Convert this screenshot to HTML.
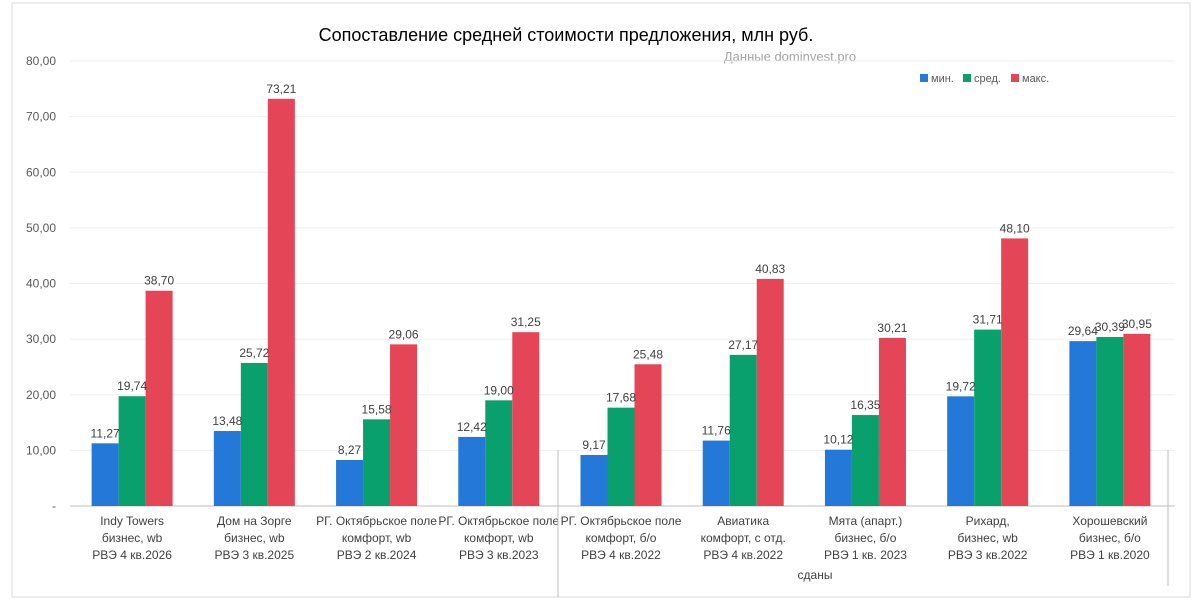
<!DOCTYPE html>
<html><head><meta charset="utf-8">
<style>
body{margin:0;background:#fff;font-family:"Liberation Sans","DejaVu Sans",sans-serif;}
svg text{font-family:"Liberation Sans","DejaVu Sans",sans-serif;}
</style></head>
<body>
<svg id="chart" width="1202" height="610">
<rect x="12" y="3" width="1178" height="594" fill="#fff" stroke="#d9d9d9"/>
<text x="566" y="41" font-size="18" text-anchor="middle" fill="#000">Сопоставление средней стоимости предложения, млн руб.</text>
<text x="790" y="61" font-size="13" text-anchor="middle" fill="#a6a6a6">Данные dominvest.pro</text>
<g id="grid"></g><g id="bars"></g><g id="labels"></g>
<g>
<rect x="920" y="74" width="8" height="8" fill="#2479d8"/>
<text x="931" y="82" font-size="11" fill="#595959">мин.</text>
<rect x="963" y="74" width="8" height="8" fill="#0aa06e"/>
<text x="974" y="82" font-size="11" fill="#595959">сред.</text>
<rect x="1011" y="74" width="8" height="8" fill="#e44658"/>
<text x="1022" y="82" font-size="11" fill="#595959">макс.</text>
</g>
<line x1="558" y1="450" x2="558" y2="597" stroke="#bfbfbf"/>
<line x1="1168" y1="450" x2="1168" y2="586" stroke="#bfbfbf"/>
<text x="815" y="579" font-size="12" text-anchor="middle" fill="#404040">сданы</text>
</svg>
<script>
const categories=[["Indy Towers","бизнес, wb","РВЭ 4 кв.2026"],["Дом на Зорге","бизнес, wb","РВЭ 3 кв.2025"],["РГ. Октябрьское поле","комфорт, wb","РВЭ 2 кв.2024"],["РГ. Октябрьское поле","комфорт, wb","РВЭ 3 кв.2023"],["РГ. Октябрьское поле","комфорт, б/о","РВЭ 4 кв.2022"],["Авиатика","комфорт, с отд.","РВЭ 4 кв.2022"],["Мята (апарт.)","бизнес, б/о","РВЭ 1 кв. 2023"],["Рихард,","бизнес, wb","РВЭ 3 кв.2022"],["Хорошевский","бизнес, б/о","РВЭ 1 кв.2020"]];
const minVals=[11.27,13.48,8.27,12.42,9.17,11.76,10.12,19.72,29.64];
const avgVals=[19.74,25.72,15.58,19.00,17.68,27.17,16.35,31.71,30.39];
const maxVals=[38.70,73.21,29.06,31.25,25.48,40.83,30.21,48.10,30.95];
const yTicks=[0,10,20,30,40,50,60,70,80];
const seriesNames=["min","avg","max"];
const colors=["#2479d8","#0aa06e","#e44658"];
const NS="http://www.w3.org/2000/svg";
const x0=71,x1=1171,yBase=506,yTop=61,yMax=80;
const y=v=>yBase-(v/yMax)*(yBase-yTop);
const cw=(x1-x0)/categories.length,bw=27;
function mk(t,a,p){const e=document.createElementNS(NS,t);for(const k in a)e.setAttribute(k,a[k]);p.appendChild(e);return e;}
const grid=document.getElementById('grid'),bars=document.getElementById('bars'),labels=document.getElementById('labels');
yTicks.forEach(t=>{
  if(t>0){const l=mk('line',{x1:70,x2:1175,y1:y(t),y2:y(t),stroke:'#efefef'},grid);
  
  }
  const tx=mk('text',{x:56,y:y(t)+4,'font-size':12,'text-anchor':'end',fill:'#595959'},grid);
  tx.textContent=t===0?'-':t.toFixed(2).replace('.',',');
  
  
});
const ax=mk('line',{x1:70,x2:1175,y1:yBase,y2:yBase,stroke:'#bfbfbf'},grid);


[minVals,avgVals,maxVals].forEach((vals,s)=>{
  vals.forEach((v,i)=>{
    const cx=x0+cw*(i+0.5);const bx=cx-1.5*bw+s*bw;
    const r=mk('rect',{x:bx,y:y(v),width:bw,height:yBase-y(v),fill:colors[s]},bars);
    
    
    const t=mk('text',{x:bx+bw/2,y:y(v)-6,'font-size':12,'text-anchor':'middle',fill:'#404040'},labels);
    t.textContent=v.toFixed(2).replace('.',',');
    
    
  });
});
categories.forEach((c,i)=>{
  const cx=x0+cw*(i+0.5);
  c.forEach((line,j)=>{
    const t=mk('text',{x:cx,y:525+j*17,'font-size':12,'text-anchor':'middle',fill:'#404040'},labels);
    t.textContent=line;
    
    
  });
});
</script>
</body></html>
